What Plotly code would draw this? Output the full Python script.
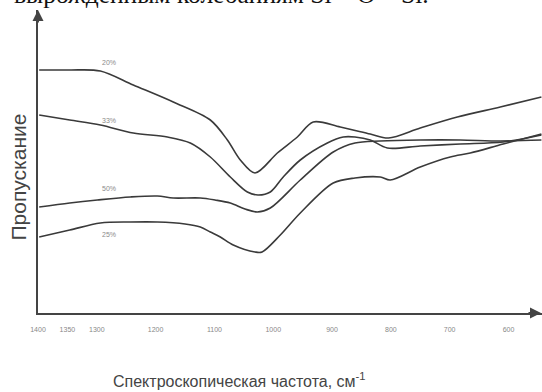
import plotly.graph_objects as go

# ---- data (wavenumber in cm^-1, transmission in arbitrary units) ----
x_20 = [1398, 1346, 1294, 1238, 1170, 1107, 1078, 1056, 1031, 993, 959, 932, 886, 835, 804, 750, 687, 614, 544]
y_20 = [243, 243, 242, 228, 211, 193, 173, 153, 140, 160, 176, 191, 186, 179, 175, 185, 196, 206, 216]

x_33 = [1398, 1346, 1294, 1238, 1180, 1141, 1107, 1073, 1044, 1026, 1005, 983, 954, 908, 881, 861, 835, 806, 750, 682, 609, 544]
y_33 = [198, 193, 188, 180, 176, 170, 156, 136, 121, 118, 121, 136, 153, 170, 176, 176, 173, 165, 167, 169, 171, 178]

x_50 = [1398, 1346, 1299, 1243, 1197, 1170, 1124, 1099, 1073, 1048, 1027, 1005, 954, 898, 861, 818, 750, 682, 614, 544]
y_50 = [106, 110, 113, 116, 117, 115, 115, 113, 110, 104, 101, 105, 133, 161, 170, 172, 173, 173, 172, 173]

x_25 = [1398, 1346, 1294, 1243, 1197, 1150, 1124, 1107, 1090, 1068, 1031, 1019, 988, 954, 898, 861, 818, 801, 750, 699, 665, 609, 544]
y_25 = [76, 83, 90, 91, 91, 89, 86, 81, 76, 68, 61, 61, 78, 100, 130, 135, 136, 133, 146, 156, 160, 169, 179]

series_names = ["20%", "33%", "50%", "25%"]
label_x = [1280, 1280, 1280, 1280]
label_y = [251, 193, 125, 79]

tick_vals = [1400, 1350, 1300, 1200, 1100, 1000, 900, 800, 700, 600]
tick_text = [str(v) for v in tick_vals]

X_RANGE = [1400, 543]
Y_RANGE = [0, 303]

fig = go.Figure()
line_color = "#3a3a3a"
for xs, ys, nm in zip([x_20, x_33, x_50, x_25], [y_20, y_33, y_50, y_25], series_names):
    fig.add_trace(go.Scatter(x=xs, y=ys, mode="lines", name=nm,
                             line=dict(color=line_color, width=1.6, shape="spline", smoothing=0.9),
                             showlegend=False, hoverinfo="skip", cliponaxis=False))

# series labels
for lx, ly, nm in zip(label_x, label_y, series_names):
    fig.add_annotation(x=lx, y=ly, text=nm, showarrow=False,
                       font=dict(family="Liberation Sans, Arial", size=7, color="#8a8a8a"))

# arrow heads on the axes
axis_col = "#444"
fig.add_annotation(x=0, y=1, xref="paper", yref="paper", ax=0, ay=14, text="",
                   showarrow=True, arrowhead=2, arrowsize=1.1, arrowwidth=2, arrowcolor=axis_col)
fig.add_annotation(x=0.998, y=0, xref="paper", yref="paper", ax=-14, ay=0, text="",
                   showarrow=True, arrowhead=2, arrowsize=1.1, arrowwidth=2, arrowcolor=axis_col)

# axis titles
fig.add_annotation(xref="paper", yref="paper", x=-0.038, y=0.45, xanchor="center", yanchor="middle",
                   text="Пропускание", textangle=-90, showarrow=False,
                   font=dict(family="Liberation Sans, Arial", size=21, color="#444"))
fig.add_annotation(xref="paper", yref="paper", x=0.40, y=-0.221, xanchor="center", yanchor="middle",
                   text="Спектроскопическая частота, см<sup>-1</sup>", showarrow=False,
                   font=dict(family="Liberation Sans, Arial", size=16, color="#444"))

# partially visible text line from the page above the figure
fig.add_annotation(xref="paper", yref="paper", x=0.365, y=1.105, xanchor="center", yanchor="top",
                   text="вырожденным колебаниям Si – O – Si.", showarrow=False,
                   font=dict(family="Liberation Serif, Times New Roman", size=25.5, color="#111"))

fig.update_xaxes(range=X_RANGE, showgrid=False, zeroline=False, showline=True, linecolor=axis_col,
                 linewidth=2, automargin=False,
                 tickvals=tick_vals, ticktext=tick_text, ticks="outside", ticklen=9,
                 tickcolor="rgba(0,0,0,0)",
                 tickfont=dict(family="Liberation Sans, Arial", size=7, color="#888"))
fig.update_yaxes(range=Y_RANGE, showgrid=False, zeroline=False, showline=True, linecolor=axis_col,
                 linewidth=2, automargin=False, showticklabels=False, ticks="")

fig.update_layout(width=542, height=392, margin=dict(l=38, r=0, t=10, b=79, autoexpand=False),
                  paper_bgcolor="white", plot_bgcolor="white", showlegend=False)

fig.write_html("out.html", config={"displayModeBar": False},
               post_script="document.body.style.margin='0';document.body.style.overflow='hidden';")
